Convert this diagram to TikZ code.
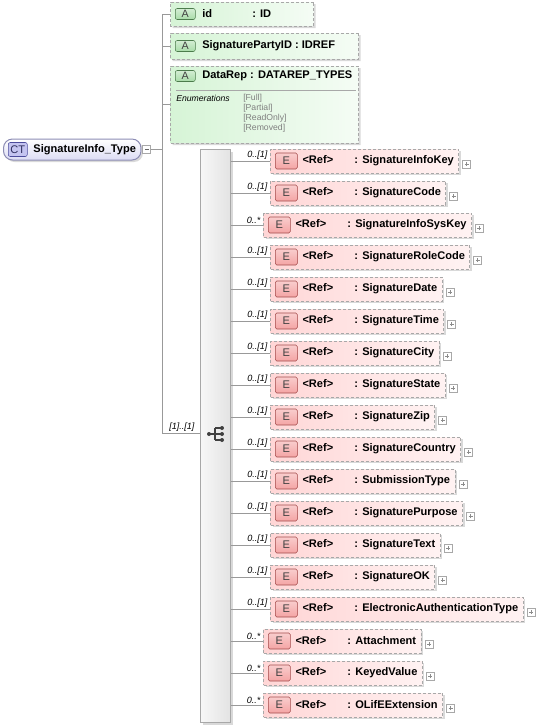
\documentclass[tikz,border=0pt]{standalone}
\usepackage{fontspec}
\setmainfont{Liberation Sans}
\usetikzlibrary{positioning,shapes.misc,shadows}
\newdimen\px
\px=0.75pt
\definecolor{linegray}{HTML}{999999}
\definecolor{boxgray}{HTML}{A8A8A8}
\definecolor{ctfill}{HTML}{DCDCF4}
\definecolor{ctedge}{HTML}{8C8CB4}
\definecolor{ctbfill}{HTML}{C4C4F0}
\definecolor{ctbedge}{HTML}{4C4C9C}
\definecolor{attrfill}{HTML}{D6F4D6}
\definecolor{abfill}{HTML}{A8DCA8}
\definecolor{abedge}{HTML}{4C7C4C}
\definecolor{elemfill}{HTML}{FFD6D6}
\definecolor{ebfill}{HTML}{F4A4A4}
\definecolor{ebedge}{HTML}{A44C4C}
\begin{document}
\begin{tikzpicture}[x=0.75pt,y=-0.75pt,
		every node/.style={inner sep=0pt,font=\fontsize{8.3}{10}\selectfont\bfseries},
		conn/.style={draw=linegray,line width=0.75pt},
		shadowed/.style={drop shadow={shadow xshift=1.5pt,shadow yshift=-1.5pt,fill=black,opacity=0.15}},
		ctnode/.style={draw=ctedge,line width=0.75pt,rounded corners=9\px,top color=white,bottom color=ctfill,
			minimum height=21\px,inner xsep=5\px,shadowed},
		ctbadge/.style={draw=ctbedge,fill=ctbfill,rounded corners=2\px,minimum width=19\px,minimum height=14\px,
			font=\fontsize{8.3}{10}\selectfont,text=ctbedge!60!black},
		togglebox/.style={draw=boxgray,fill=white,minimum size=8\px,line width=0.6pt},
		minusbox/.style={togglebox,path picture={\draw[black!60,line width=0.6pt]
			([xshift=2\px]path picture bounding box.west) -- ([xshift=-2\px]path picture bounding box.east);}},
		plusbox/.style={togglebox,path picture={\draw[black!45,line width=0.6pt]
			([xshift=2\px]path picture bounding box.west) -- ([xshift=-2\px]path picture bounding box.east)
			([yshift=2\px]path picture bounding box.south) -- ([yshift=-2\px]path picture bounding box.north);}},
		attrbox/.style={chamfered rectangle,chamfered rectangle corners={north west,south west},
			chamfered rectangle xsep=5\px,draw=boxgray,dash pattern=on 2.25pt off 1.5pt,line width=0.75pt,
			left color=attrfill,right color=attrfill!25,shadowed},
		abadge/.style={draw=abedge,top color=abfill!50,bottom color=abfill,rounded corners=2\px,
			minimum width=20\px,minimum height=11\px,font=\fontsize{8}{10}\selectfont,text=black!75},
		elembox/.style={draw=boxgray,dash pattern=on 2.25pt off 1.5pt,line width=0.75pt,
			left color=elemfill,right color=elemfill!30,minimum height=24\px,inner xsep=5\px,shadowed},
		ebadge/.style={draw=ebedge,top color=ebfill!55,bottom color=ebfill,rounded corners=1.5\px,
			minimum width=22\px,minimum height=16\px,font=\fontsize{8.3}{10}\selectfont,text=black!75},
		seqbar/.style={draw=boxgray,line width=0.75pt,left color=gray!6,right color=gray!22,
			minimum width=30\px,minimum height=573\px,shadowed},
		occ/.style={font=\fontsize{6.8}{8}\selectfont\itshape},
		enumlbl/.style={font=\fontsize{6.5}{7.5}\selectfont\itshape},
		enumval/.style={font=\fontsize{6.5}{7.5}\selectfont,text=gray,align=left}]
	\useasboundingbox (0,0) rectangle (537,726);
	\node[ctnode,anchor=west] (ct) at (3,149.5) {\hspace{25\px}SignatureInfo\_Type\hspace{4\px}};
	\node[ctbadge,anchor=west] (ctb) at ([xshift=5\px]ct.west) {CT};
	\node[minusbox,anchor=west] (ctm) at ([xshift=1\px]ct.east) {};
	\coordinate (top) at (162,14);
	\coordinate (bot) at (162,433);
	\draw[conn] (ctm.east) -- (ctm.east -| top);
	\draw[conn] (top) -- (bot);
	\node[attrbox,anchor=west,minimum width=143\px,minimum height=24\px] (aid) at (170,14) {};
	\node[abadge,anchor=west] (aidb) at ([xshift=5\px]aid.west) {A};
	\node[anchor=west] (aidt) at (202,14) {\makebox[50\px][l]{id}: ID};
	\node[attrbox,anchor=west,minimum width=188\px,minimum height=26\px] (apid) at (170,46) {};
	\node[abadge,anchor=west] (apidb) at ([xshift=5\px]apid.west) {A};
	\node[anchor=west] (apidt) at (202,46) {SignaturePartyID : IDREF};
	\node[attrbox,anchor=west,minimum width=188\px,minimum height=77\px] (adr) at (170,104.5) {};
	\node[abadge,anchor=west] (adrb) at (175,76) {A};
	\node[anchor=west] (adrt) at (202,76) {DataRep : DATAREP\_TYPES};
	\draw[boxgray,line width=0.6pt] (176,90) -- (356,90);
	\node[enumlbl,anchor=north west] (adrl) at (176,95) {Enumerations};
	\node[enumval,anchor=north west] (adrv) at (243,94) {[Full]\\{}[Partial]\\{}[ReadOnly]\\{}[Removed]};
	\draw[conn] (aid.west -| top) -- (aid.west);
	\draw[conn] (apid.west -| top) -- (apid.west);
	\draw[conn] (adr.west -| top) -- (adr.west);
	\node[seqbar,anchor=north west] (seq) at (200,149) {};
	\draw[conn] (bot) -- node[occ,pos=1,anchor=south east,xshift=-5\px,yshift=1\px] {[1]..[1]} (bot -| seq.west);
	\draw[black!75,line width=0.9pt] (209,434) -- (215,434) (215,428) -- (215,440)
		(215,428) -- (222,428) (215,434) -- (222,434) (215,440) -- (222,440);
	\fill[black!75] (209,434) circle (2\px) (222,428) circle (2\px) (222,434) circle (2\px) (222,440) circle (2\px);
	\foreach \nm/\xl/\oc [count=\i from 0] in {SignatureInfoKey/270/{0..[1]},SignatureCode/270/{0..[1]},
		SignatureInfoSysKey/263/{0..*},SignatureRoleCode/270/{0..[1]},SignatureDate/270/{0..[1]},
		SignatureTime/270/{0..[1]},SignatureCity/270/{0..[1]},SignatureState/270/{0..[1]},
		SignatureZip/270/{0..[1]},SignatureCountry/270/{0..[1]},SubmissionType/270/{0..[1]},
		SignaturePurpose/270/{0..[1]},SignatureText/270/{0..[1]},SignatureOK/270/{0..[1]},
		ElectronicAuthenticationType/270/{0..[1]},Attachment/263/{0..*},KeyedValue/263/{0..*},
		OLifEExtension/263/{0..*}}{
		\pgfmathsetmacro\y{161+32*\i}
		\node[elembox,anchor=west] (e\i) at (\xl,\y) {\hspace{27\px}\makebox[52\px][l]{\textless Ref\textgreater}: \nm\hspace{3\px}};
		\node[ebadge,anchor=west] (eb\i) at ([xshift=5\px]e\i.west) {E};
		\node[plusbox,anchor=west] (ep\i) at ([xshift=3\px,yshift=-3\px]e\i.east) {};
		\draw[conn] (e\i.west -| seq.east) -- node[occ,pos=1,anchor=south east,xshift=-2\px,yshift=1\px] {\oc} (e\i.west);
	}
\end{tikzpicture}
\end{document}
